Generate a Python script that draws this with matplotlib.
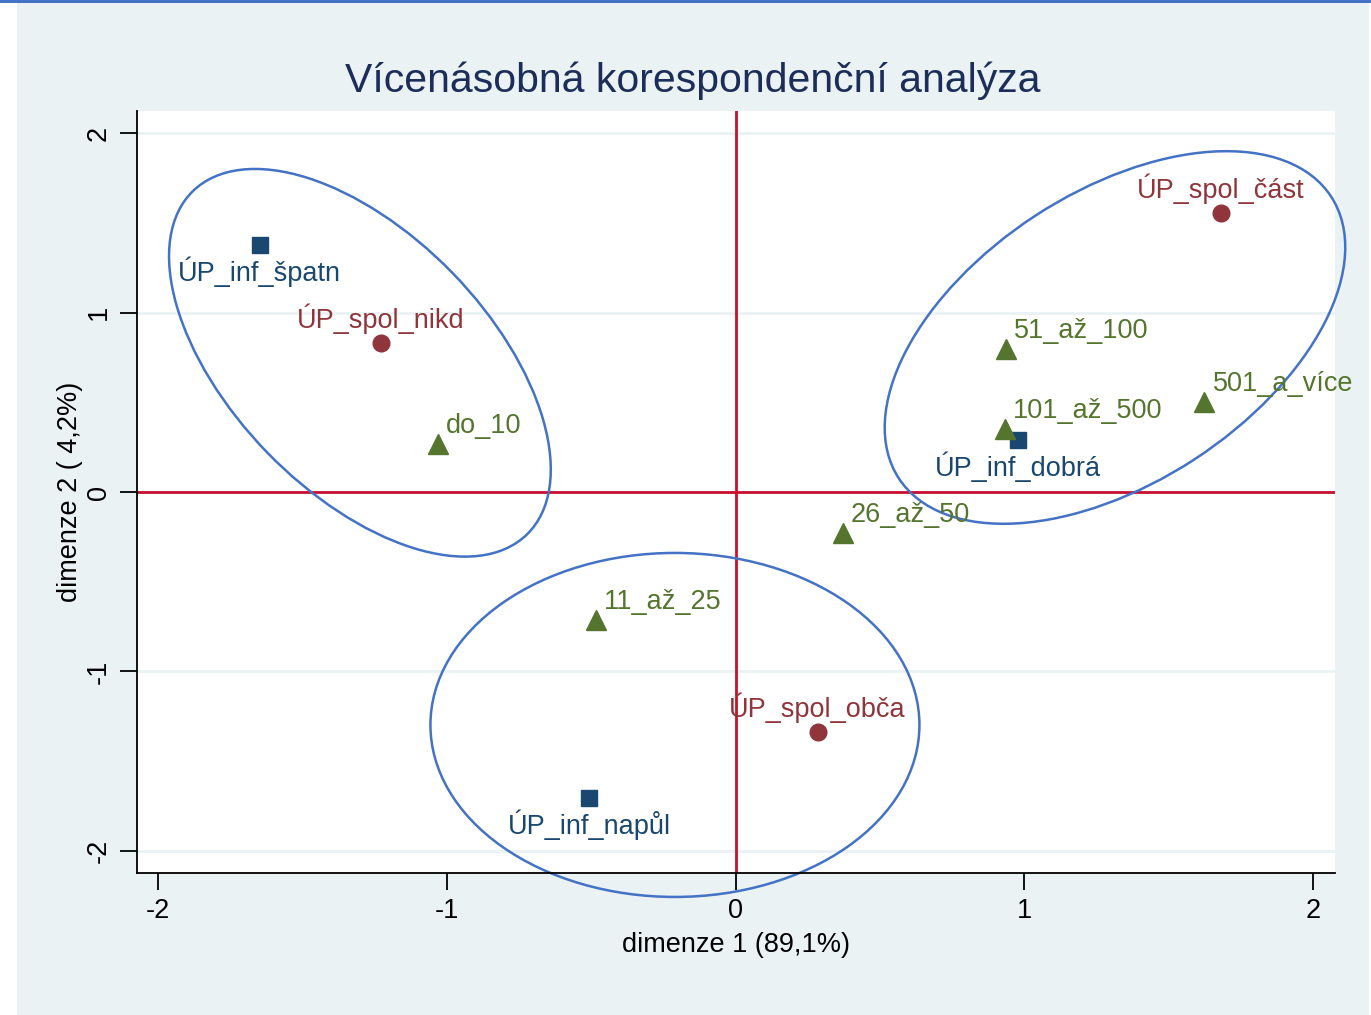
import matplotlib
matplotlib.use("Agg")
import matplotlib.pyplot as plt
from matplotlib.patches import Ellipse, Rectangle
from matplotlib.transforms import Affine2D

plt.rcParams['font.family'] = ['Liberation Sans', 'DejaVu Sans']
plt.rcParams['axes.unicode_minus'] = False

# squares, blue - labels below
inf_labels = ["ÚP_inf_špatn", "ÚP_inf_dobrá", "ÚP_inf_napůl"]
inf_x = [-1.648, 0.977, -0.506]
inf_y = [1.376, 0.290, -1.705]

# circles, red - labels above
spol_labels = ["ÚP_spol_nikd", "ÚP_spol_část", "ÚP_spol_obča"]
spol_x = [-1.229, 1.680, 0.284]
spol_y = [0.830, 1.554, -1.337]

# triangles, green - labels upper right
vel_labels = ["do_10", "51_až_100", "501_a_více", "101_až_500", "26_až_50", "11_až_25"]
vel_x = [-1.032, 0.935, 1.624, 0.932, 0.371, -0.485]
vel_y = [0.265, 0.797, 0.500, 0.351, -0.228, -0.713]

# ellipses: centre (data), width/height in pixels, angle in degrees (screen)
ell_cx = [-1.301, 1.314, -0.210]
ell_cy = [0.720, 0.861, -1.298]
ell_w = [479, 516, 489]
ell_h = [258, 291, 344]
ell_ang = [-45.8, 33.1, 0]

xticks = [-2, -1, 0, 1, 2]
yticks = [-2, -1, 0, 1, 2]

c_blue = "#1a476f"
c_red = "#90353b"
c_green = "#55752f"
c_ell = "#4472c4"
c_axis = "#c8102e"
c_bg = "#eaf2f3"

fig = plt.figure(figsize=(13.71, 10.15), dpi=100)
fig.patch.set_facecolor("white")
fig.patches.append(Rectangle((17 / 1371, 0), 1352 / 1371, 1 - 3 / 1015,
                             transform=fig.transFigure, facecolor=c_bg,
                             edgecolor="none", zorder=-10))
fig.patches.append(Rectangle((0, 1 - 3 / 1015), 1, 3 / 1015,
                             transform=fig.transFigure, facecolor=c_ell,
                             edgecolor="none", zorder=-10))

ax = fig.add_axes([137 / 1371, 1 - 873 / 1015, 1198 / 1371, 762 / 1015])
ax.set_facecolor("white")
ax.set_xlim(-2.073, 2.076)
ax.set_ylim(-2.123, 2.123)

for t in yticks:
    ax.axhline(t, color=c_bg, lw=2, zorder=0)

ax.axhline(0, color=c_axis, lw=2, zorder=1)
ax.axvline(0, color=c_axis, lw=2, zorder=1)

ax.plot(inf_x, inf_y, "s", color=c_blue, markersize=12, zorder=3)
ax.plot(spol_x, spol_y, "o", color=c_red, markersize=12, zorder=3)
ax.plot(vel_x, vel_y, "^", color=c_green, markersize=15, zorder=3)

fs = 19.5
for lab, x, y in zip(inf_labels, inf_x, inf_y):
    ax.annotate(lab, (x, y), xytext=(0, -27), textcoords="offset pixels",
                ha="center", va="center", color=c_blue, fontsize=fs)
for lab, x, y in zip(spol_labels, spol_x, spol_y):
    ax.annotate(lab, (x, y), xytext=(0, 24), textcoords="offset pixels",
                ha="center", va="center", color=c_red, fontsize=fs)
for lab, x, y in zip(vel_labels, vel_x, vel_y):
    ax.annotate(lab, (x, y), xytext=(8, 18), textcoords="offset pixels",
                ha="left", va="center", color=c_green, fontsize=fs)

# ellipse sizes are given in pixels, so scale back to data units
sx = 1198 / (2.076 + 2.073)
sy = 762 / (2.123 * 2)
to_data = Affine2D().scale(1 / sx, 1 / sy) + ax.transData
for cx, cy, w, h, a in zip(ell_cx, ell_cy, ell_w, ell_h, ell_ang):
    e = Ellipse((cx * sx, cy * sy), w, h, angle=a, transform=to_data,
                fill=False, edgecolor=c_ell, lw=1.8, zorder=2)
    e.set_clip_on(False)
    ax.add_patch(e)

ax.spines["top"].set_visible(False)
ax.spines["right"].set_visible(False)
ax.spines["left"].set_linewidth(1.3)
ax.spines["bottom"].set_linewidth(1.3)
ax.set_xticks(xticks)
ax.set_yticks(yticks)
ax.tick_params(length=12, width=1.3, labelsize=19.5, pad=6)
plt.setp(ax.get_yticklabels(), rotation=90, va="center")

ax.set_xlabel("dimenze 1 (89,1%)", fontsize=19.5, labelpad=6)
ax.set_ylabel("dimenze 2 ( 4,2%)", fontsize=19.5, labelpad=2)
fig.suptitle("Vícenásobná korespondenční analýza", x=693 / 1371, y=1 - 81 / 1015,
             va="center", fontsize=29.5, color="#1c2d5a")

fig.savefig("out.png", dpi=100)
